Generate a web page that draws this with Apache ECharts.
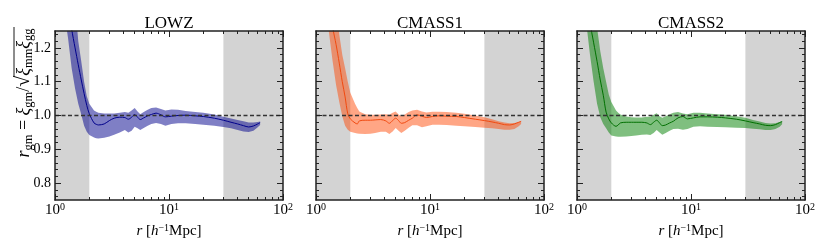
<!DOCTYPE html>
<html><head><meta charset="utf-8">
<script src="https://cdn.jsdelivr.net/npm/echarts@6/dist/echarts.min.js"></script>
<style>html,body{margin:0;padding:0;background:#fff}#c{width:830px;height:249px}</style>
</head><body><div id="c"></div>
<script>
// ---------- data ----------
const titles = ['LOWZ', 'CMASS1', 'CMASS2'];
const r = [1.2,1.3,1.4,1.5,1.6,1.7,1.8,1.9,2.0,2.2,2.3,2.4,2.7,3.0,3.3,3.7,4.1,4.4,4.7,5.0,5.3,5.6,6.0,6.5,7.0,7.7,8.5,9.3,10.5,12,14,17,20,25,30,35,40,45,50,55,60,63];

const lowzMedian = [1.40,1.32,1.255,1.20,1.15,1.105,1.065,1.03,1.005,0.978,0.974,0.972,0.975,0.985,0.992,0.995,0.994,0.989,0.995,1.003,0.995,0.988,0.993,0.999,1.003,1.007,1.002,0.996,0.998,1.0,1.001,0.999,0.997,0.992,0.986,0.980,0.975,0.970,0.966,0.969,0.975,0.979];
const lowzUpper  = [1.7,1.6,1.45,1.33,1.22,1.16,1.10,1.057,1.035,1.015,1.011,1.008,1.006,1.006,1.006,1.008,1.01,1.008,1.015,1.022,1.012,1.004,1.01,1.017,1.022,1.024,1.019,1.015,1.018,1.017,1.013,1.01,1.008,1.003,0.996,0.991,0.987,0.983,0.979,0.979,0.981,0.982];
const lowzLower  = [1.31,1.23,1.14,1.08,1.035,1.003,0.97,0.952,0.942,0.935,0.933,0.932,0.934,0.938,0.943,0.95,0.957,0.950,0.955,0.967,0.962,0.957,0.963,0.970,0.975,0.978,0.975,0.970,0.975,0.977,0.977,0.975,0.973,0.970,0.966,0.962,0.957,0.953,0.951,0.955,0.965,0.972];

const cmass1Median = [1.40,1.32,1.26,1.21,1.155,1.10,1.055,1.005,0.99,0.978,0.975,0.984,0.986,0.986,0.987,0.988,0.984,0.977,0.985,0.992,0.985,0.977,0.979,0.986,0.992,1.002,0.998,0.994,0.997,0.999,0.998,0.997,0.994,0.989,0.985,0.981,0.977,0.973,0.972,0.975,0.980,0.983];
const cmass1Upper  = [1.7,1.58,1.44,1.33,1.24,1.18,1.14,1.10,1.067,1.035,1.022,1.012,1.004,1.002,1.002,1.003,1.004,1.002,1.008,1.012,1.003,0.998,1.003,1.01,1.015,1.017,1.012,1.009,1.011,1.011,1.01,1.008,1.005,1.0,0.995,0.989,0.983,0.979,0.977,0.978,0.981,0.984];
const cmass1Lower  = [1.35,1.245,1.16,1.09,1.04,0.998,0.97,0.958,0.952,0.948,0.947,0.946,0.945,0.946,0.948,0.952,0.952,0.945,0.953,0.963,0.955,0.948,0.955,0.964,0.971,0.971,0.965,0.968,0.973,0.973,0.972,0.970,0.968,0.966,0.964,0.962,0.96,0.958,0.958,0.96,0.968,0.975];

const cmass2Median = [1.36,1.275,1.215,1.16,1.105,1.06,1.01,0.99,0.978,0.968,0.972,0.978,0.980,0.980,0.980,0.980,0.978,0.973,0.980,0.986,0.978,0.970,0.972,0.978,0.983,0.993,0.997,0.990,0.993,0.996,0.996,0.995,0.993,0.989,0.984,0.979,0.975,0.971,0.970,0.973,0.979,0.982];
const cmass2Upper  = [1.6,1.48,1.37,1.26,1.19,1.14,1.1,1.062,1.04,1.015,1.008,1.003,0.997,0.995,0.994,0.994,0.996,0.996,1.002,1.007,0.998,0.993,0.998,1.004,1.008,1.01,1.006,1.004,1.008,1.008,1.006,1.004,1.002,0.998,0.993,0.987,0.982,0.978,0.976,0.977,0.981,0.984];
const cmass2Lower  = [1.28,1.18,1.1,1.035,0.995,0.975,0.962,0.95,0.941,0.938,0.937,0.937,0.938,0.939,0.941,0.943,0.944,0.942,0.948,0.957,0.950,0.943,0.948,0.955,0.96,0.961,0.958,0.960,0.967,0.968,0.967,0.966,0.965,0.964,0.963,0.961,0.959,0.957,0.957,0.96,0.967,0.974];

const xMinorTicks = [2,3,4,5,6,7,8,9,20,30,40,50,60,70,80,90];
const yMajorTicks = [0.8, 0.9, 1.0, 1.1, 1.2];
const yMinorTicks = [0.76,0.78,0.82,0.84,0.86,0.88,0.92,0.94,0.96,0.98,1.02,1.04,1.06,1.08,1.12,1.14,1.16,1.18,1.22,1.24];
const maskedRanges = [[1, 2], [30, 100]];
const refLevel = 1.0;

// ---------- styles ----------
const medians = [lowzMedian, cmass1Median, cmass2Median];
const uppers = [lowzUpper, cmass1Upper, cmass2Upper];
const lowers = [lowzLower, cmass1Lower, cmass2Lower];
const lineColors = ['#00008b', '#f04a10', '#007000'];
const fillColors = ['rgba(0,0,139,0.5)', 'rgba(255,69,0,0.48)', 'rgba(0,128,0,0.5)'];
const gridLefts = [55, 316, 577];
const GW = 228, GT = 31, GH = 169;
const FONT = '"Liberation Serif", "DejaVu Serif", serif';
const AX = '#222';

const chart = echarts.init(document.getElementById('c'), null, {renderer: 'canvas'});

const grid = [], xAxis = [], yAxis = [], series = [], title = [];
for (let g = 0; g < 3; g++) {
  grid.push({left: gridLefts[g], top: GT, width: GW, height: GH, containLabel: false});
  title.push({text: titles[g], left: gridLefts[g] + GW / 2, top: 15, textAlign: 'center', padding: 0,
    textStyle: {fontFamily: FONT, fontSize: 17, fontWeight: 'normal', color: '#000'}});
  const xBase = {type: 'log', logBase: 10, min: 1, max: 100, gridIndex: g, z: 10,
    splitLine: {show: false}, axisLabel: {show: false}};
  xAxis.push(Object.assign({}, xBase, {
    position: 'bottom',
    axisLine: {show: true, onZero: false, lineStyle: {color: AX, width: 1.5}},
    axisTick: {show: true, inside: true, length: 6, lineStyle: {color: AX, width: 1}},
    axisLabel: {show: true, margin: 2, fontFamily: FONT, color: '#000',
      formatter: v => '{a|10}{s|' + Math.round(Math.log10(v)) + '}',
      rich: {a: {fontFamily: FONT, fontSize: 15, color: '#000'},
             s: {fontFamily: FONT, fontSize: 10, color: '#000', verticalAlign: 'bottom', padding: [0, 0, 7, 0]}}},
    name: '{i|r} [{i|h}{s|−1}Mpc]', nameLocation: 'middle', nameGap: 10,
    nameTextStyle: {fontFamily: FONT, fontSize: 15, color: '#000',
      rich: {i: {fontFamily: FONT, fontSize: 15, fontStyle: 'italic', color: '#000'},
             s: {fontFamily: FONT, fontSize: 10, color: '#000', verticalAlign: 'bottom', padding: [0, 0, 7, 0]}}}
  }));
  xAxis.push(Object.assign({}, xBase, {position: 'bottom', axisLine: {show: false},
    axisTick: {show: true, inside: true, length: 3, customValues: xMinorTicks, lineStyle: {color: AX, width: 1}}}));
  xAxis.push(Object.assign({}, xBase, {position: 'top',
    axisLine: {show: true, onZero: false, lineStyle: {color: AX, width: 1.5}},
    axisTick: {show: true, inside: true, length: 6, lineStyle: {color: AX, width: 1}}}));
  xAxis.push(Object.assign({}, xBase, {position: 'top', axisLine: {show: false},
    axisTick: {show: true, inside: true, length: 3, customValues: xMinorTicks, lineStyle: {color: AX, width: 1}}}));

  const yBase = {type: 'value', min: 0.75, max: 1.25, gridIndex: g, z: 10, splitLine: {show: false}, axisLabel: {show: false}};
  yAxis.push(Object.assign({}, yBase, {position: 'left',
    axisLine: {show: true, onZero: false, lineStyle: {color: AX, width: 1.5}},
    axisTick: {show: true, inside: true, length: 6, customValues: yMajorTicks, lineStyle: {color: AX, width: 1}},
    axisLabel: {show: g === 0, customValues: yMajorTicks, margin: 4, fontFamily: FONT, fontSize: 14, color: '#000',
      formatter: v => v.toFixed(1)}}));
  yAxis.push(Object.assign({}, yBase, {position: 'left', axisLine: {show: false},
    axisTick: {show: true, inside: true, length: 3, customValues: yMinorTicks, lineStyle: {color: AX, width: 1}}}));
  yAxis.push(Object.assign({}, yBase, {position: 'right',
    axisLine: {show: true, onZero: false, lineStyle: {color: AX, width: 1.5}},
    axisTick: {show: true, inside: true, length: 6, customValues: yMajorTicks, lineStyle: {color: AX, width: 1}}}));
  yAxis.push(Object.assign({}, yBase, {position: 'right', axisLine: {show: false},
    axisTick: {show: true, inside: true, length: 3, customValues: yMinorTicks, lineStyle: {color: AX, width: 1}}}));

  const xi = 4 * g, yi = 4 * g;
  // masked (shaded) ranges
  series.push({type: 'line', xAxisIndex: xi, yAxisIndex: yi, z: 1, data: [], silent: true,
    markArea: {silent: true, itemStyle: {color: '#d3d3d3', opacity: 1},
      data: maskedRanges.map(m => [{xAxis: m[0]}, {xAxis: m[1]}])}});
  // error band polygon: upper edge forward, lower edge backward
  const up = uppers[g], lo = lowers[g], fill = fillColors[g];
  series.push({type: 'custom', xAxisIndex: xi, yAxisIndex: yi, z: 2, silent: true, clip: true,
    encode: {x: 0, y: [1, 2]},
    data: r.map((x, i) => [x, lo[i], up[i]]),
    renderItem: (params, api) => {
      if (params.dataIndex !== 0) return null;
      const pts = [];
      for (let i = 0; i < r.length; i++) pts.push(api.coord([r[i], up[i]]));
      for (let i = r.length - 1; i >= 0; i--) pts.push(api.coord([r[i], lo[i]]));
      const cs = params.coordSys;
      return {type: 'polygon', shape: {points: pts, smooth: 0},
        style: {fill: fill, stroke: null},
        clipPath: {type: 'rect', shape: {x: cs.x, y: cs.y, width: cs.width, height: cs.height}}};
    }});
  // median
  series.push({type: 'line', xAxisIndex: xi, yAxisIndex: yi, z: 3, symbol: 'none', smooth: 0.3,
    lineStyle: {color: lineColors[g], width: 1}, data: r.map((x, i) => [x, medians[g][i]])});
  // reference line
  series.push({type: 'line', xAxisIndex: xi, yAxisIndex: yi, z: 4, symbol: 'none',
    lineStyle: {color: '#333', width: 1.5, type: [4, 2.5]}, data: [[1, refLevel], [100, refLevel]]});
}

chart.setOption({
  animation: false,
  title: title,
  grid: grid, xAxis: xAxis, yAxis: yAxis, series: series,
  graphic: [{
    type: 'group', x: 24, y: 93, rotation: Math.PI / 2,
    children: [{
      type: 'text', x: 0, y: 0,
      style: {
        text: '{i|r}{s|gm}{n| = }{i|ξ}{s|gm}{n|/}{q|√}{i|ξ}{s|mm}{i|ξ}{s|gg}',
        align: 'center', verticalAlign: 'middle', fill: '#000',
        font: '18px ' + FONT,
        rich: {
          i: {fontFamily: FONT, fontSize: 18, fontStyle: 'italic', fill: '#000', color: '#000'},
          n: {fontFamily: FONT, fontSize: 18, fill: '#000', color: '#000'},
          q: {fontFamily: FONT, fontSize: 20, fill: '#000', color: '#000'},
          s: {fontFamily: FONT, fontSize: 12.5, fill: '#000', color: '#000', verticalAlign: 'top', padding: [9, 0, 0, 0]}
        }
      }
    }, {
      type: 'line', shape: {x1: 16, y1: -10, x2: 66, y2: -10}, style: {stroke: '#000', lineWidth: 0.9}
    }]
  }]
});
</script>
</body></html>
